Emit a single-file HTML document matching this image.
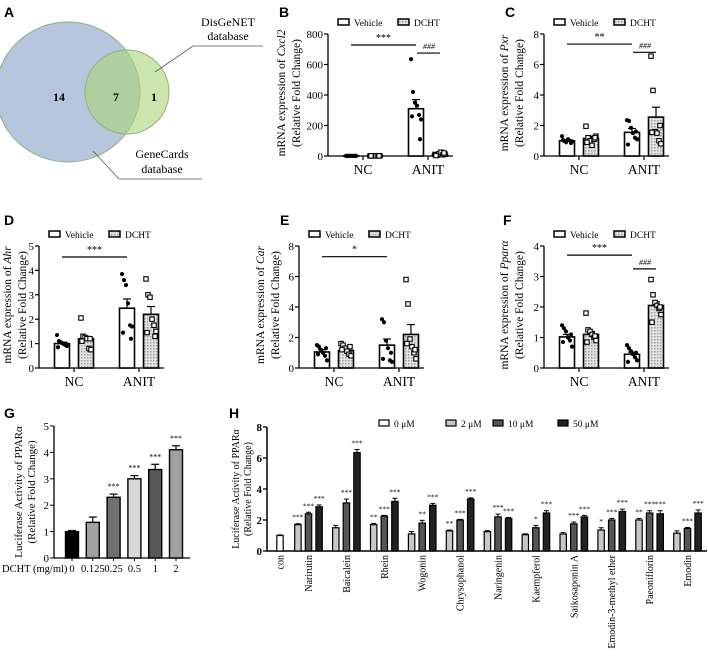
<!DOCTYPE html>
<html><head><meta charset="utf-8"><style>
html,body{margin:0;padding:0;background:#fff}
svg{display:block;font-family:"Liberation Serif",serif}
.pl{font-family:"Liberation Sans",sans-serif;font-weight:bold;font-size:14px}
</style></head><body>
<svg id="fig" width="708" height="656" viewBox="0 0 708 656">
<defs>
<pattern id="dots" width="3" height="3" patternUnits="userSpaceOnUse"><rect width="3" height="3" fill="#e4e4e4"/><rect width="1.5" height="1.5" fill="#9a9a9a"/></pattern>
</defs>
<g>
<text class="pl" x="4" y="17">A</text>
<ellipse cx="68" cy="92" rx="72" ry="70" fill="#b6c6de" stroke="#8fb07a" stroke-width="1"/>
<ellipse cx="127" cy="92" rx="42" ry="42" fill="rgba(170,214,120,0.6)" stroke="#8fb07a" stroke-width="1"/>
<text x="59" y="101" font-size="12" font-weight="bold" text-anchor="middle">14</text>
<text x="116" y="101" font-size="12" font-weight="bold" text-anchor="middle">7</text>
<text x="154" y="101" font-size="12" font-weight="bold" text-anchor="middle">1</text>
<polyline points="155,72 193,46 263,46" fill="none" stroke="#555" stroke-width="0.8"/>
<text x="228" y="26" font-size="12" text-anchor="middle">DisGeNET</text>
<text x="228" y="40" font-size="12" text-anchor="middle">database</text>
<polyline points="93,151 119,179 202,179" fill="none" stroke="#555" stroke-width="0.8"/>
<text x="162" y="158" font-size="12" text-anchor="middle">GeneCards</text>
<text x="162" y="173" font-size="12" text-anchor="middle">database</text>
</g>
<g id="panels"></g>
</svg>
<script>
const groups = ["NC","ANIT"];
const bMeans = [[1,1],[310,12]];  const bErr = [[0.5,0.5],[60,5]];
const bPts = [[[1,1,1,1,1,1,1,1],[1,1,1,1,1,1,1,1]],[[635,420,350,330,270,240,260,110],[10,5,15,25,8,12,3,20]]];
const cMeans = [[1.0,1.15],[1.55,2.55]]; const cErr = [[0.05,0.15],[0.25,0.65]];
const cPts = [[[1.3,1.0,0.9,1.1,1.0,0.95,1.05,0.85],[1.95,1.2,1.0,0.7,1.1,1.3,0.9,1.2]],[[2.35,2.3,1.85,1.5,1.2,1.1,0.75,1.6],[6.55,4.3,1.6,1.5,1.0,0.8,1.55,2.0]]];
const dMeans = [[1.0,1.2],[2.45,2.2]]; const dErr = [[0.06,0.1],[0.38,0.32]];
const dPts = [[[1.35,1.1,1.05,1.0,0.95,0.9,0.85,1.0],[2.05,1.3,1.25,1.2,0.8,0.75,1.1,1.2]],[[3.85,3.6,3.4,2.65,1.75,1.7,1.45,1.2],[3.65,3.0,2.9,2.0,1.75,1.5,1.45,1.3]]];
const eMeans = [[1.05,1.15],[1.5,2.2]]; const eErr = [[0.15,0.1],[0.4,0.65]];
const ePts = [[[1.5,1.4,1.2,1.0,0.8,0.5,0.9,1.3],[1.6,1.5,1.3,1.1,0.9,0.8,1.2,1.4]],[[3.2,3.0,1.8,1.3,0.5,0.4,0.6,1.0],[5.8,4.2,1.9,1.4,1.0,0.6,1.6,1.2]]];
const fMeans = [[1.02,1.1],[0.45,2.05]]; const fErr = [[0.08,0.1],[0.07,0.12]];
const fPts = [[[1.4,1.3,1.2,1.0,0.9,0.7,0.85,1.1],[1.8,1.25,1.2,1.1,1.0,0.9,0.85,1.05]],[[0.75,0.65,0.55,0.45,0.35,0.25,0.2,0.5],[2.9,2.4,2.15,2.05,1.95,1.75,1.5,2.0]]];
const bTicks=[0,200,400,600,800], cTicks=[0,2,4,6,8], dTicks=[0,1,2,3,4,5], eTicks=[0,2,4,6,8], fTicks=[0,1,2,3,4];
const gCats=["0","0.125","0.25","0.5","1","2"];
const gVals=[1.0,1.35,2.3,3.0,3.35,4.1];
const gErrs=[0.04,0.2,0.12,0.12,0.2,0.15];
const gSig=["","","***","***","***","***"];
const gTicks=[0,1,2,3,4,5];
const hCats=["Narirutin","Baicalein","Rhein","Wogonin","Chrysophanol","Naringenin","Kaempferol","Saikosaponin A","Emodin-3-methyl ether","Paeoniflorin","Emodin"];
const hCon=1.0, hConErr=0.04;
const h2=[1.7,1.5,1.7,1.1,1.3,1.25,1.05,1.1,1.35,2.0,1.15];
const h10=[2.4,3.1,2.25,1.8,2.0,2.2,1.5,1.75,2.0,2.45,1.45];
const h50=[2.85,6.35,3.2,2.95,3.35,2.1,2.45,2.2,2.55,2.4,2.45];
const h2e=[0.06,0.15,0.08,0.15,0.05,0.06,0.06,0.1,0.15,0.1,0.15];
const h10e=[0.1,0.25,0.05,0.18,0.04,0.18,0.15,0.12,0.1,0.15,0.07];
const h50e=[0.12,0.2,0.2,0.12,0.08,0.06,0.15,0.1,0.15,0.2,0.2];
const h2s=["***","","**","","**","","","","*","**",""];
const h10s=["***","***","***","**","***","***","*","***","***","***","***"];
const h50s=["***","***","***","***","***","***","***","***","***","***","***"];
const hTicks=[0,2,4,6,8];

const NS="http://www.w3.org/2000/svg";
const root=document.getElementById('panels');
function mk(tag,attrs,parent,txt){const e=document.createElementNS(NS,tag);for(const k in attrs)e.setAttribute(k,attrs[k]);if(txt!==undefined)e.textContent=txt;(parent||root).appendChild(e);return e;}

function barPanel(o){
  const g=mk('g',{});
  
  
  const y0=o.y0,yt=o.y0-122,ax=o.ax,max=o.ticks[o.ticks.length-1];
  const Y=v=>y0-v/max*122;
  const lab=mk('text',{class:'pl',x:o.lx,y:o.ly},g,o.label);
  
  
  const ly=yt-11;
  [[0,'Vehicle','#fff'],[60,'DCHT','url(#dots)']].forEach(([dx,t,f])=>{
    const r=mk('rect',{x:ax+10+dx,y:ly-4,width:11,height:6,fill:f,stroke:'#000','stroke-width':1.5},g);
    
    
    const tx=mk('text',{x:ax+26+dx,y:ly+3,'font-size':9.5},g,t);
    
    
  });
  const ya=mk('line',{x1:ax,y1:yt,x2:ax,y2:y0,stroke:'#000','stroke-width':1.3},g);
  
  
  const xa=mk('line',{x1:ax,y1:y0,x2:ax+125,y2:y0,stroke:'#000','stroke-width':1.3},g);
  
  
  o.ticks.forEach(t=>{
    mk('line',{x1:ax-4,y1:Y(t),x2:ax,y2:Y(t),stroke:'#000','stroke-width':1.2},g);
    const tl=mk('text',{x:ax-5,y:Y(t)+4,'font-size':11,'text-anchor':'end'},g,t);
    
    
  });
  const tt=mk('text',{transform:`translate(${o.t1},${(y0+yt)/2-2}) rotate(-90)`,'font-size':11.5,'text-anchor':'middle'},g);
  
  
  mk('tspan',{},tt,'mRNA expression of ');mk('tspan',{'font-style':'italic'},tt,o.gene);
  const t2=mk('text',{transform:`translate(${o.t2},${(y0+yt)/2-2}) rotate(-90)`,'font-size':11.5,'text-anchor':'middle'},g,'(Relative Fold Change)');
  
  
  const jit=[-5,-3,-1,1,3,5,-4,4];
  groups.forEach((gn,gi)=>{
    const cx=ax+35+gi*65;
    mk('line',{x1:cx,y1:y0,x2:cx,y2:y0+4,stroke:'#000','stroke-width':1.2},g);
    const xl=mk('text',{x:cx,y:y0+18,'font-size':13.5,'text-anchor':'middle'},g,gn);
    
    
    [0,1].forEach(si=>{
      const bx=cx+(si?12:-12), m=o.means[gi][si], e=o.err[gi][si];
      const r=mk('rect',{x:bx-7.5,y:Y(m),width:15,height:y0-Y(m),fill:si?'url(#dots)':'#fff',stroke:'#000','stroke-width':1.6},g);
      
      
      mk('line',{x1:bx,y1:Y(m),x2:bx,y2:Y(m+e),stroke:'#000','stroke-width':1.2},g);
      mk('line',{x1:bx-4,y1:Y(m+e),x2:bx+4,y2:Y(m+e),stroke:'#000','stroke-width':1.2},g);
      o.pts[gi][si].forEach((p,pi)=>{
        let d;
        if(si===0){d=mk('circle',{cx:bx+jit[pi],cy:Y(p),r:2.1,fill:'#000'},g);}
        else{d=mk('rect',{x:bx+jit[pi]-2.2,y:Y(p)-2.2,width:4.4,height:4.4,fill:'#fff',stroke:'#000','stroke-width':1.1},g);}
        
        
      });
    });
  });
  const x1=ax+23,x2=ax+88,x3=ax+112;
  const s1=mk('line',{x1:x1,y1:Y(o.sig1),x2:x2,y2:Y(o.sig1),stroke:'#000','stroke-width':1.2},g);
  
  
  const st=mk('text',{x:(x1+x2)/2,y:Y(o.sig1)-4,'font-size':10,'text-anchor':'middle'},g,o.sig1t);
  
  
  if(o.sig2!==undefined){
    const s2=mk('line',{x1:x2+1,y1:Y(o.sig2),x2:x3,y2:Y(o.sig2),stroke:'#000','stroke-width':1.2},g);
    
    
    const h=mk('text',{x:(x2+x3)/2+1,y:Y(o.sig2)-4,'font-size':8,'font-style':'italic','text-anchor':'middle'},g,'###');
    
    
  }
}
barPanel({name:'panel-b-cxcl2',label:'B',lx:279,ly:17,ax:328,t1:285,t2:300,y0:156,gene:'Cxcl2',means:bMeans,err:bErr,pts:bPts,ticks:bTicks,sig1:728,sig1t:'***',sig2:675});
barPanel({name:'panel-c-pxr',label:'C',lx:505,ly:17,ax:544,t1:508,t2:523,y0:156,gene:'Pxr',means:cMeans,err:cErr,pts:cPts,ticks:cTicks,sig1:7.34,sig1t:'**',sig2:6.8});
barPanel({name:'panel-d-ahr',label:'D',lx:4,ly:225,ax:39,t1:11,t2:26,y0:368,gene:'Ahr',means:dMeans,err:dErr,pts:dPts,ticks:dTicks,sig1:4.55,sig1t:'***'});
barPanel({name:'panel-e-car',label:'E',lx:280,ly:225,ax:299,t1:264,t2:279,y0:368,gene:'Car',means:eMeans,err:eErr,pts:ePts,ticks:eTicks,sig1:7.3,sig1t:'*'});
barPanel({name:'panel-f-ppara',label:'F',lx:503,ly:225,ax:544,t1:508,t2:523,y0:368,gene:'Pparα',means:fMeans,err:fErr,pts:fPts,ticks:fTicks,sig1:3.7,sig1t:'***',sig2:3.25});

(function(){
  const g=mk('g',{});
  
  
  const ax=54,y0=558,ppu=26.4,Y=v=>y0-v*ppu;
  const l=mk('text',{class:'pl',x:4,y:418},g,'G');
  
  
  mk('line',{x1:ax,y1:Y(5),x2:ax,y2:y0,stroke:'#000','stroke-width':1.3},g);
  mk('line',{x1:ax,y1:y0,x2:ax+136,y2:y0,stroke:'#000','stroke-width':1.3},g);
  gTicks.forEach(t=>{mk('line',{x1:ax-4,y1:Y(t),x2:ax,y2:Y(t),stroke:'#000'},g);
    const tl=mk('text',{x:ax-5,y:Y(t)+4,'font-size':11,'text-anchor':'end'},g,t);
    
    });
  const t1=mk('text',{transform:`translate(22,${Y(2.5)}) rotate(-90)`,'font-size':11,'text-anchor':'middle'},g,'Luciferase Activity of PPARα');
  
  
  const t2=mk('text',{transform:`translate(35,${Y(2.5)}) rotate(-90)`,'font-size':11,'text-anchor':'middle'},g,'(Relative Fold Change)');
  
  
  const fills=['#000','#a0a0a0','#707070','#d8d8d8','#585858','#a0a0a0'];
  const xl=mk('text',{x:2,y:y0+14,'font-size':10.5},g,'DCHT (mg/ml)');
  
  
  gCats.forEach((c,i)=>{
    const cx=72+i*20.8;
    const r=mk('rect',{x:cx-6.5,y:Y(gVals[i]),width:13,height:gVals[i]*ppu,fill:fills[i],stroke:'#000','stroke-width':1.4},g);
    
    
    mk('line',{x1:cx,y1:Y(gVals[i]),x2:cx,y2:Y(gVals[i]+gErrs[i]),stroke:'#000','stroke-width':1.2},g);
    mk('line',{x1:cx-4,y1:Y(gVals[i]+gErrs[i]),x2:cx+4,y2:Y(gVals[i]+gErrs[i]),stroke:'#000','stroke-width':1.2},g);
    mk('line',{x1:cx,y1:y0,x2:cx,y2:y0+3,stroke:'#000'},g);
    const tl=mk('text',{x:cx,y:y0+14,'font-size':10.5,'text-anchor':'middle'},g,c);
    
    
    if(gSig[i]){const s=mk('text',{x:cx,y:Y(gVals[i]+gErrs[i])-5,'font-size':8,'text-anchor':'middle'},g,gSig[i]);
      
      }
  });
})();

(function(){
  const g=mk('g',{});
  
  
  const ax=267,y0=551,ppu=15.5,Y=v=>y0-v*ppu;
  const l=mk('text',{class:'pl',x:229,y:418},g,'H');
  
  
  mk('line',{x1:ax,y1:Y(8),x2:ax,y2:y0,stroke:'#000','stroke-width':1.5},g);
  mk('line',{x1:ax,y1:y0,x2:707,y2:y0,stroke:'#000','stroke-width':1.5},g);
  hTicks.forEach(t=>{mk('line',{x1:ax-4,y1:Y(t),x2:ax,y2:Y(t),stroke:'#000','stroke-width':1.3},g);
    const tl=mk('text',{x:ax-5,y:Y(t)+4,'font-size':11,'font-weight':'bold','text-anchor':'end'},g,t);
    
    });
  const t1=mk('text',{transform:`translate(239,${Y(4)}) rotate(-90)`,'font-size':10,'text-anchor':'middle'},g,'Luciferase Activity of PPARα');
  
  
  const t2=mk('text',{transform:`translate(251,${Y(4)}) rotate(-90)`,'font-size':10,'text-anchor':'middle'},g,'(Relative Fold Change)');
  
  
  const leg=[['0 μM','#fff',379],['2 μM','#c8c8c8',446],['10 μM','#555',493],['50 μM','#222',558]];
  leg.forEach(([t,f,x])=>{
    const r=mk('rect',{x:x,y:420,width:10,height:6,fill:f,stroke:'#000','stroke-width':1.2},g);
    
    
    const tx=mk('text',{x:x+15,y:427,'font-size':9.5},g,t);
    
    
  });
  function bar(cx,v,e,f,sig,name){
    const r=mk('rect',{x:cx-3.2,y:Y(v),width:6.4,height:v*ppu,fill:f,stroke:'#000','stroke-width':1.2},g);
    
    
    mk('line',{x1:cx,y1:Y(v),x2:cx,y2:Y(v+e),stroke:'#000'},g);
    mk('line',{x1:cx-2.5,y1:Y(v+e),x2:cx+2.5,y2:Y(v+e),stroke:'#000'},g);
    if(sig){const s=mk('text',{x:cx,y:Y(v+e)-4,'font-size':7.5,'text-anchor':'middle'},g,sig);
      
      }
  }
  function xlab(cx,t){const tl=mk('text',{transform:`translate(${cx+3.5},555) rotate(-90)`,'font-size':10,'text-anchor':'end'},g,t);
    
    }
  bar(280,hCon,hConErr,'#fff','','bar-con');
  xlab(280,'con');
  hCats.forEach((c,i)=>{
    const cx=308.5+i*37.9;
    bar(cx-10.6,h2[i],h2e[i],'#c8c8c8',h2s[i],'bar-'+c+'-2um');
    bar(cx,h10[i],h10e[i],'#555',h10s[i],'bar-'+c+'-10um');
    bar(cx+10.6,h50[i],h50e[i],'#222',h50s[i],'bar-'+c+'-50um');
    xlab(cx,c);
  });
})();
</script>
</body></html>
